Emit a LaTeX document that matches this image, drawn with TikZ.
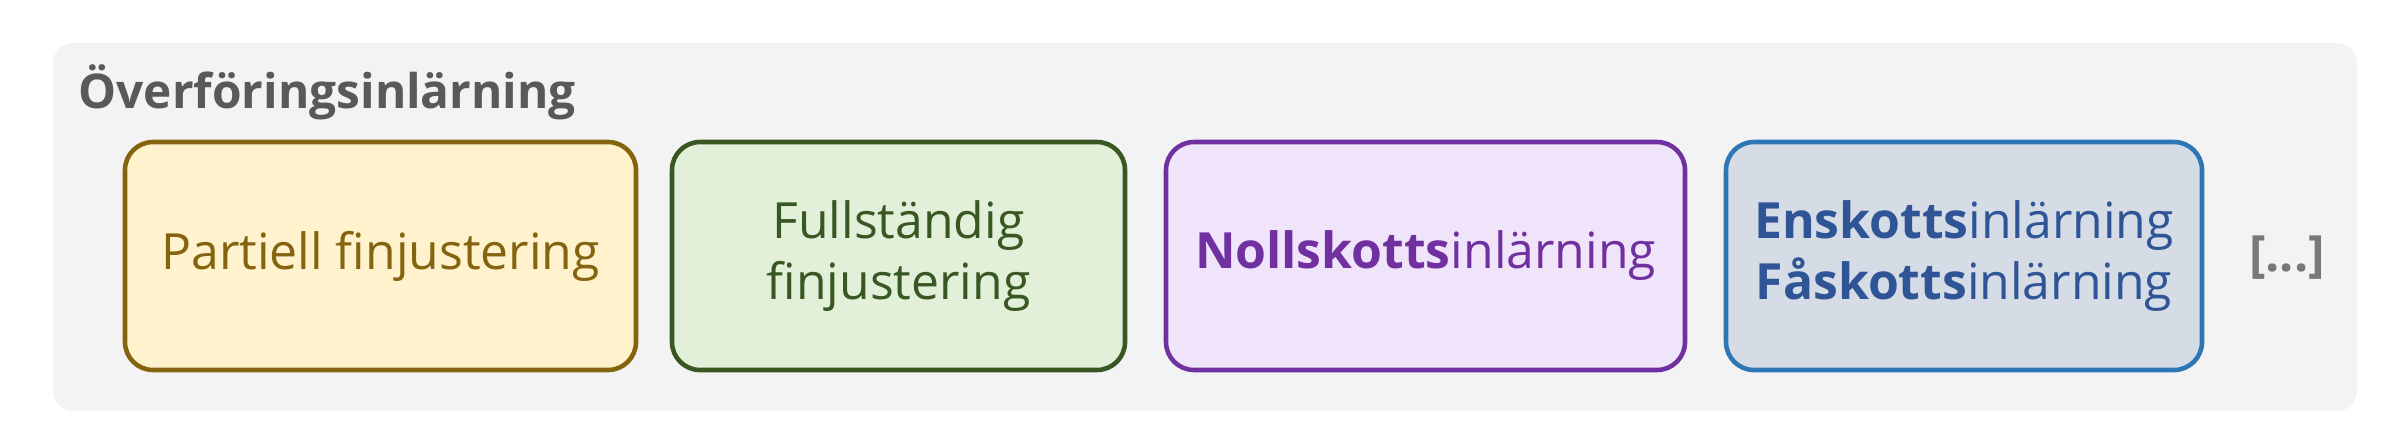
\documentclass[tikz,border=0pt]{standalone}
\usepackage{fontspec}
\setmainfont{Open Sans}
\usepackage{tikz}
\usetikzlibrary{positioning,calc}
\definecolor{panelgrey}{RGB}{243,243,243}
\definecolor{titlegrey}{RGB}{89,89,89}
\definecolor{dotgrey}{RGB}{120,120,120}
\definecolor{brownln}{RGB}{133,100,15}
\definecolor{yellowfl}{RGB}{255,242,204}
\definecolor{greenln}{RGB}{56,87,35}
\definecolor{greenfl}{RGB}{226,240,217}
\definecolor{purpleln}{RGB}{112,48,160}
\definecolor{purplefl}{RGB}{240,228,250}
\definecolor{blueln}{RGB}{46,117,182}
\definecolor{bluefl}{RGB}{214,220,229}
\definecolor{bluetx}{RGB}{47,85,151}
\tikzset{
  >=stealth,
  sketchbox/.style={draw=#1, line width=1.3pt, rounded corners=2.8mm,
    minimum height=22.8mm, align=center, text=#1,
    font=\fontsize{14.2}{17.1}\selectfont},
}

\begin{document}
\begin{tikzpicture}[x=0.1mm,y=-0.1mm]
\useasboundingbox (0,0) rectangle (2388,432);
%\draw[red] (0,0) rectangle (2388,432);
\node[fill=panelgrey, rounded corners=2mm, minimum width=230.4mm, minimum height=36.8mm] (panel) at (1205,227) {};
\node[anchor=base west, inner sep=0pt, text=titlegrey, font=\fontsize{13.6}{16}\selectfont\bfseries] (title) at (78,108) {Överföringsinlärning};
\node[sketchbox=brownln, fill=yellowfl, minimum width=51.1mm] (partial) at (380.5,256) {Partiell finjustering};
\node[sketchbox=greenln, fill=greenfl, minimum width=45.3mm] (full) at (898.5,256) {Fullständig\\finjustering};
\node[sketchbox=purpleln, fill=purplefl, minimum width=51.9mm] (zero) at (1425.5,256) {\textbf{Nollskotts}inlärning};
\node[sketchbox=blueln, text=bluetx, fill=bluefl, minimum width=47.6mm] (few) at (1964,256) {\textbf{Enskotts}inlärning\\\textbf{Fåskotts}inlärning};
\node[text=dotgrey, font=\fontsize{14.2}{17}\selectfont\bfseries] (more) at (2287,258) {[...]};
\end{tikzpicture}
\end{document}
